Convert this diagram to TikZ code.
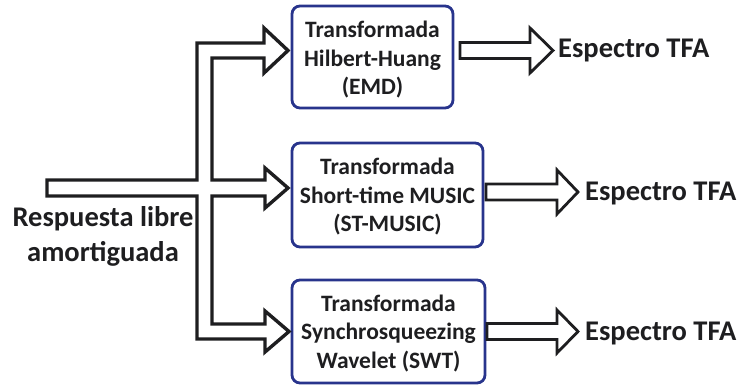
\documentclass[tikz,border=0pt]{standalone}
\usepackage{fontspec}
\setmainfont{Carlito}
\definecolor{boxblue}{RGB}{40,52,140}
\definecolor{ink}{RGB}{30,30,32}
\begin{document}
\begin{tikzpicture}[x=1pt,y=-1pt,
  hollow/.style={draw=ink,line width=3.4pt,line join=miter,fill=white},
  hollowthin/.style={draw=ink,line width=2.8pt,line join=miter,fill=white},
  tbox/.style={draw=boxblue,line width=2.8pt,rounded corners=8pt,align=center,
    font=\fontsize{23.5}{28.5}\selectfont\bfseries,text=ink,inner sep=0pt},
  lbl/.style={font=\fontsize{28.5}{35}\selectfont\bfseries,text=ink,inner sep=0pt,align=center}]
\useasboundingbox (0,0) rectangle (743,385);
% boxes
\node[tbox,minimum width=161pt,minimum height=102pt] (b1) at (372.5,57) {};
\node[tbox,minimum width=191pt,minimum height=104pt] (b2) at (387.5,195) {};
\node[tbox,minimum width=193pt,minimum height=103pt] (b3) at (388.5,331.5) {};
\node[tbox,draw=none] (t1) at ([yshift=-3pt]b1.center) {Transformada\\Hilbert-Huang\\(EMD)};
\node[tbox,draw=none] (t2) at ([yshift=-2pt]b2.center) {Transformada\\Short-time MUSIC\\(ST-MUSIC)};
\node[tbox,draw=none] (t3) at ([yshift=-2pt]b3.center) {Transformada\\Synchrosqueezing\\Wavelet (SWT)};
% input label
\node[lbl] (in) at (103,236) {Respuesta libre\\amortiguada};
% branching hollow arrow
\draw[hollow] (47,180) -- (197,180) -- (197,43) -- (264,43) -- (264,28) -- (288,50.5) -- (264,73) -- (264,58) -- (212,58) -- (212,180)
  -- (265,180) -- (265,168) -- (288,188) -- (265,208) -- (265,196) -- (212,196) -- (212,324) -- (265,324) -- (265,311)
  -- (289,331.5) -- (265,352) -- (265,339) -- (197,339) -- (197,196) -- (47,196) -- cycle;
% output arrows
\draw[hollowthin] (460,42.5) -- (530,42.5) -- (530,28) -- (553,50.5) -- (530,73) -- (530,58.5) -- (460,58.5) -- cycle;
\draw[hollowthin] (486,184) -- (557,184) -- (557,170) -- (578,192) -- (557,214) -- (557,200) -- (486,200) -- cycle;
\draw[hollowthin] (487,323.5) -- (557,323.5) -- (557,310) -- (578,331.5) -- (557,353) -- (557,339.5) -- (487,339.5) -- cycle;
% outputs
\node[lbl,anchor=west] (o1) at (558,51) {Espectro TFA};
\node[lbl,anchor=west] (o2) at (585,193) {Espectro TFA};
\node[lbl,anchor=west] (o3) at (585,333) {Espectro TFA};
\end{tikzpicture}
\end{document}
